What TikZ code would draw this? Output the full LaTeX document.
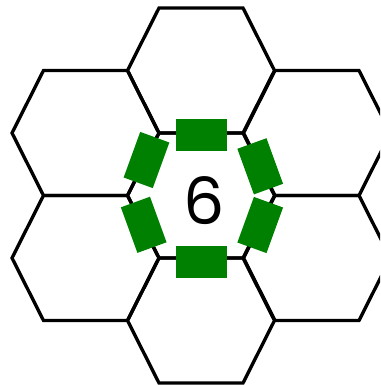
\documentclass[tikz,border=0pt]{standalone}
\usepackage{fontspec}
\setsansfont{Poppins}

\begin{document}
\begin{tikzpicture}[
    x=0.02cm,y=-0.02cm,
    cellline/.style={draw=black,line width=1.9pt},
    bar/.style={fill=green!50!black,inner sep=0pt,minimum width=0.62cm,minimum height=0.97cm}
]
\useasboundingbox (0,0) rectangle (380,385);
\clip (0,0) rectangle (380,385);
% Middle cell and the six cells round it.
\foreach \cx/\cy in {201/70.5,201/195.5,201/320.5,85.5/133,85.5/258,317/133,317/258}{
    \draw[cellline] (\cx-42,\cy-62.5) -- (\cx+42,\cy-62.5) -- (\cx+73.5,\cy)
        -- (\cx+42,\cy+62.5) -- (\cx-42,\cy+62.5) -- (\cx-73.5,\cy) -- cycle;
}
% Green bars on the edges of the middle cell.
\node[bar,minimum width=1.02cm,minimum height=0.64cm] (topbar) at (201.5,135) {};
\node[bar,minimum width=1.02cm,minimum height=0.64cm] (bottombar) at (201.5,262) {};
\node[bar,rotate=-20] (upleftbar) at (146.5,160) {};
\node[bar,rotate=20] (lowleftbar) at (143.7,224.8) {};
\node[bar,rotate=20] (uprightbar) at (260.2,166.3) {};
\node[bar,rotate=-20] (lowrightbar) at (260.2,225) {};
% Cell number.
\node[font=\sffamily\fontsize{37}{37}\selectfont,inner sep=0pt] (cellnum) at (204.5,201) {6};
\end{tikzpicture}
\end{document}
